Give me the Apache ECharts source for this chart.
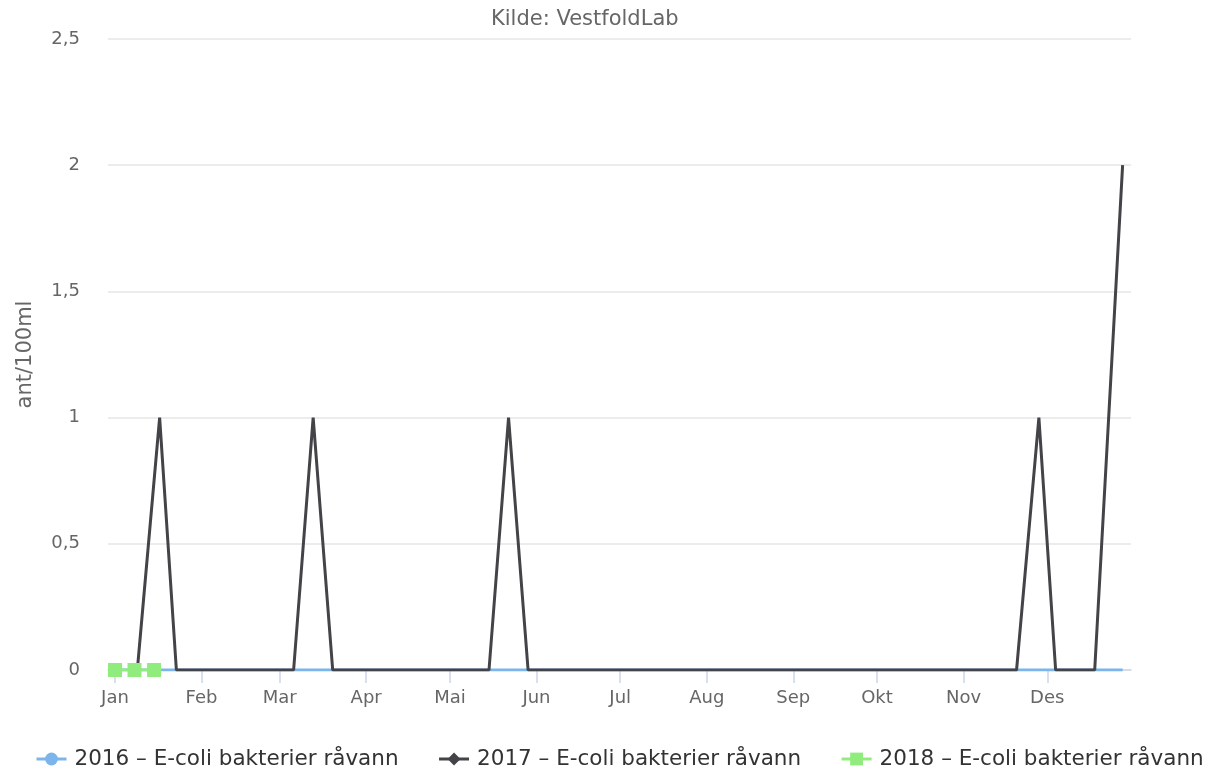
<!DOCTYPE html>
<html>
<head>
<meta charset="utf-8">
<script src="https://cdn.jsdelivr.net/npm/echarts@6/dist/echarts.min.js"></script>
<style>html,body{margin:0;padding:0;background:#fff}#c{width:1215px;height:775px}</style>
</head>
<body>
<div id="c"></div>
<script>
// All series plotted on a common calendar year (month-day)
const plotYear = 2017;
const monthLabels = ['Jan','Feb','Mar','Apr','Mai','Jun','Jul','Aug','Sep','Okt','Nov','Des'];
const seriesNames = ['2016 – E-coli bakterier råvann','2017 – E-coli bakterier råvann','2018 – E-coli bakterier råvann'];
const yTicks = [0, 0.5, 1, 1.5, 2, 2.5];

const dates2016 = ['01-01','12-28'];
const values2016 = [0, 0];

const dates2017 = ['01-09','01-17','01-23','03-06','03-13','03-20','05-15','05-22','05-29','11-20','11-28','12-04','12-18','12-28'];
const values2017 = [0, 1, 0, 0, 1, 0, 0, 1, 0, 0, 1, 0, 0, 2];

const dates2018 = ['01-01','01-08','01-15'];
const values2018 = [0, 0, 0];

const toPairs = (d, v) => d.map((s, i) => [plotYear + '-' + s, v[i]]);

const chart = echarts.init(document.getElementById('c'));
const fam = 'DejaVu Sans';
chart.setOption({
  animation: false,
  title: {
    text: 'Kilde: VestfoldLab',
    left: 486, top: 4,
    textStyle: {color: '#666', fontSize: 21, fontWeight: 'normal', fontFamily: fam}
  },
  grid: {left: 108, right: 84, top: 39, bottom: 105},
  legend: {
    bottom: 0, left: 30, width: 1185,
    itemWidth: 30, itemHeight: 16, itemGap: 39,
    lineStyle: {width: 3},
    textStyle: {color: '#333', fontSize: 21.5, fontFamily: fam, padding: [0, 0, 0, 3]},
    data: seriesNames
  },
  xAxis: {
    type: 'time',
    min: (plotYear - 1) + '-12-29 12:00',
    max: plotYear + '-12-31',
    minInterval: 28 * 86400000,
    maxInterval: 31 * 86400000,
    axisLine: {lineStyle: {color: '#ccd6eb', width: 1.5}},
    axisTick: {show: true, length: 13, lineStyle: {color: '#ccd6eb', width: 1.5}},
    splitLine: {show: false},
    axisLabel: {
      color: '#666', fontSize: 18, fontFamily: fam, margin: 19,
      showMinLabel: false, showMaxLabel: false,
      formatter: function (val) { const d = new Date(val); return d.getDate() === 1 ? monthLabels[d.getMonth()] : ''; }
    }
  },
  yAxis: {
    type: 'value', min: yTicks[0], max: yTicks[yTicks.length - 1], interval: 0.5,
    name: 'ant/100ml', nameLocation: 'middle', nameGap: 72, nameRotate: 90,
    nameTextStyle: {color: '#666', fontSize: 21, fontFamily: fam},
    axisLine: {show: false}, axisTick: {show: false},
    splitLine: {lineStyle: {color: '#e6e6e6', width: 1.5}},
    axisLabel: {color: '#666', fontSize: 18, fontFamily: fam, margin: 28,
      formatter: v => String(v).replace('.', ',')}
  },
  series: [
    {name: seriesNames[0], type: 'line', data: toPairs(dates2016, values2016),
     symbol: 'circle', symbolSize: 12, showSymbol: false, color: '#7cb5ec', lineStyle: {width: 3}, z: 1},
    {name: seriesNames[1], type: 'line', data: toPairs(dates2017, values2017),
     symbol: 'diamond', symbolSize: 14, showSymbol: false, color: '#434348', lineStyle: {width: 3}, z: 3},
    {name: seriesNames[2], type: 'line', data: toPairs(dates2018, values2018),
     symbol: 'rect', symbolSize: 14, showSymbol: true, color: '#90ed7d', lineStyle: {width: 3}, z: 4}
  ]
});
</script>
</body>
</html>
